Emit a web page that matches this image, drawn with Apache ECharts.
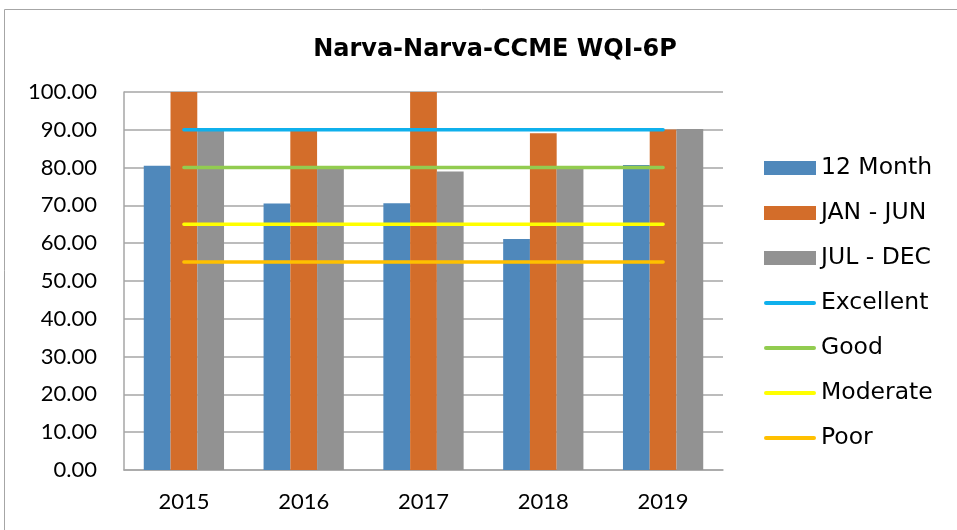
<!DOCTYPE html>
<html>
<head>
<meta charset="utf-8">
<script src="https://cdn.jsdelivr.net/npm/echarts@6/dist/echarts.min.js"></script>
<style>
  html, body { margin: 0; padding: 0; background: #fff; }
  #chart { width: 957px; height: 530px; }
</style>
</head>
<body>
<div id="chart"></div>
<script>
// Narva-Narva CCME water quality index, 6 parameters, by year and half-year
const years = ['2015', '2016', '2017', '2018', '2019'];
const twelveMonth = [80.5, 70.5, 70.6, 61.1, 80.7];
const janJun = [100, 89.8, 100, 89.1, 90.1];
const julDec = [90.0, 79.8, 79.0, 80.3, 90.2];

// Quality class thresholds
const excellent = [90, 90, 90, 90, 90];
const good = [80, 80, 80, 80, 80];
const moderate = [65, 65, 65, 65, 65];
const poor = [55, 55, 55, 55, 55];

const yTicks = { min: 0, max: 100, interval: 10 };

const chart = echarts.init(document.getElementById('chart'), null, { renderer: 'canvas' });

function bar(name, data, color) {
  return {
    name, type: 'bar', data,
    itemStyle: { color },
    barGap: '0%', barCategoryGap: '33%',
    emphasis: { disabled: true }
  };
}
function line(name, data, color) {
  return {
    name, type: 'line', data,
    symbol: 'none',
    lineStyle: { color, width: 3.5, cap: 'round' },
    itemStyle: { color },
    z: 5,
    emphasis: { disabled: true }
  };
}

const boxIcon = 'path://M0,0 L52,0 L52,14 L0,14 Z';
const lineIcon = 'path://M2,5 L50,5 A2,2 0 0 1 50,9 L2,9 A2,2 0 0 1 2,5 Z';

chart.setOption({
  animation: false,
  backgroundColor: '#fff',
  title: {
    text: 'Narva-Narva-CCME WQI-6P',
    left: 490, top: 33, textAlign: 'center',
    textStyle: { fontFamily: 'DejaVu Sans', fontWeight: 'bold', fontSize: 24, color: '#000' }
  },
  graphic: [{
    type: 'rect', shape: { x: 4.5, y: 9.5, width: 960, height: 530 },
    style: { fill: 'none', stroke: '#a6a6a6', lineWidth: 1 }, silent: true
  }],
  legend: {
    orient: 'vertical', left: 764, top: 156, padding: 0,
    itemGap: 21, itemWidth: 52, itemHeight: 14,
    textStyle: { fontFamily: 'DejaVu Sans', fontSize: 23.5, lineHeight: 24, color: '#000' },
    data: [
      { name: '12 Month', icon: boxIcon },
      { name: 'JAN - JUN', icon: boxIcon },
      { name: 'JUL - DEC', icon: boxIcon },
      { name: 'Excellent', icon: lineIcon },
      { name: 'Good', icon: lineIcon },
      { name: 'Moderate', icon: lineIcon },
      { name: 'Poor', icon: lineIcon }
    ]
  },
  grid: { left: 124, top: 92, width: 599, height: 378, containLabel: false },
  xAxis: {
    type: 'category', data: years,
    axisLine: { lineStyle: { color: '#a6a6a6', width: 1.5 } },
    axisTick: { show: false },
    axisLabel: { fontFamily: 'Lato', fontSize: 22, color: '#000', margin: 21 }
  },
  yAxis: {
    type: 'value', min: yTicks.min, max: yTicks.max, interval: yTicks.interval,
    axisLine: { show: true, lineStyle: { color: '#a6a6a6', width: 1.5 } },
    axisTick: { show: false },
    splitLine: { lineStyle: { color: '#a6a6a6', width: 1.5 } },
    axisLabel: {
      fontFamily: 'Lato', fontSize: 22, color: '#000', margin: 27,
      formatter: v => v.toFixed(2)
    }
  },
  series: [
    bar('12 Month', twelveMonth, '#4f88bb'),
    bar('JAN - JUN', janJun, '#d36d2a'),
    bar('JUL - DEC', julDec, '#929292'),
    line('Excellent', excellent, '#0fb0ec'),
    line('Good', good, '#92cc50'),
    line('Moderate', moderate, '#ffff00'),
    line('Poor', poor, '#ffc000')
  ]
});
</script>
</body>
</html>
